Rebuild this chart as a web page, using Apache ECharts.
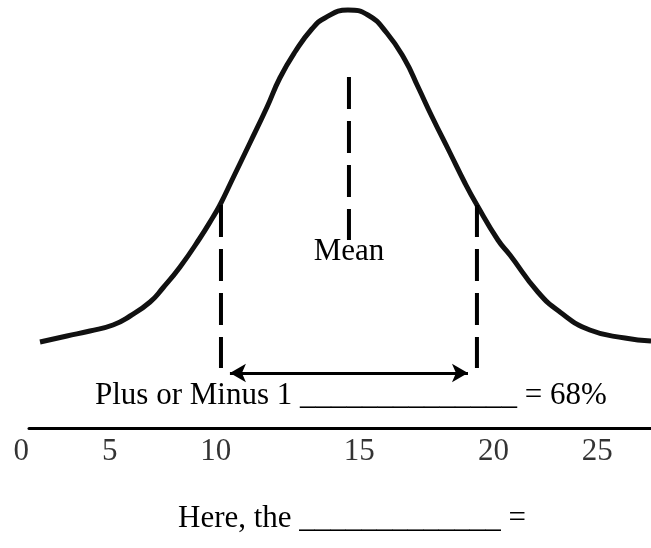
<!DOCTYPE html>
<html>
<head>
<meta charset="utf-8">
<script src="https://cdn.jsdelivr.net/npm/echarts@6/dist/echarts.min.js"></script>
<style>
  html, body { margin: 0; padding: 0; background: #fff; }
  #main { width: 651px; height: 548px; }
</style>
</head>
<body>
<div id="main"></div>
<script>
// bell curve: x in score units, y = height above the number line
var curveX = [2.93, 3.98, 4.88, 5.78, 6.45, 7.23, 7.73, 8.40, 9.18, 9.69, 9.96, 10.47, 11.13, 11.80, 12.30, 12.89, 13.55, 14.06,
              14.96, 15.74, 16.48, 17.19, 17.70, 18.25, 18.95, 19.53, 20.00, 20.82, 21.29, 22.38, 23.24, 24.41, 25.78, 26.80];
var curveY = [86, 92, 97, 103, 112, 126, 140, 161, 190, 211, 223, 250, 285, 321, 350, 376, 399, 410,
              418, 413, 395, 368, 341, 311, 275, 245, 223, 188, 173, 136, 116, 98, 90, 87];

// plus / minus one standard deviation, and the mean
var sdAt = [10, 20];
var sdSpan = [223, 60];
var meanAt = 15;
var meanSpan = [351, 188];

// double arrow between the two sd lines
var arrowSpan = [10.35, 19.65];
var arrowLevel = 55;

// number line labels (hand placed in the original, not evenly spaced)
var tickLabels = ['0', '5', '10', '15', '20', '25'];
var tickAt = [2.2, 5.65, 9.8, 15.4, 20.65, 24.7];

var line1 = 'Plus or Minus 1 ______________ = 68%';
var line2 = 'Here, the _____________ =';

var FONT = '"Times New Roman", "Liberation Serif", serif';

var chart = echarts.init(document.getElementById('main'));

var curve = [];
for (var i = 0; i < curveX.length; i++) {
  curve.push([curveX[i], curveY[i]]);
}

var dashed = { color: '#000', width: 4, type: [32, 12], cap: 'butt' };

var series = [
  {
    name: 'curve',
    type: 'line',
    data: curve,
    smooth: 0.5,
    symbol: 'none',
    lineStyle: { color: '#111', width: 5 }
  }
];

sdAt.forEach(function (x) {
  series.push({
    type: 'line',
    data: [[x, sdSpan[0]], [x, sdSpan[1]]],
    symbol: 'none',
    lineStyle: dashed
  });
});

series.push({
  type: 'line',
  data: [[meanAt, meanSpan[0]], [meanAt, meanSpan[1]]],
  symbol: 'none',
  lineStyle: dashed
});

// "Mean" text hangs under the mean line
series.push({
  type: 'scatter',
  data: [[meanAt, meanSpan[1]]],
  symbolSize: 0,
  z: 10,
  itemStyle: { opacity: 1 },
  label: {
    show: true,
    position: 'bottom',
    distance: 0,
    offset: [0, -4],
    formatter: 'Mean',
    color: '#000',
    opacity: 1,
    textBorderWidth: 0,
    fontSize: 31,
    fontFamily: FONT
  }
});

series.push({
  type: 'line',
  data: [],
  markLine: {
    silent: true,
    symbol: ['arrow', 'arrow'],
    symbolSize: [14, 16],
    label: { show: false },
    lineStyle: { color: '#000', width: 3, type: 'solid' },
    data: [[{ coord: [arrowSpan[0], arrowLevel] }, { coord: [arrowSpan[1], arrowLevel] }]]
  }
});

// tick labels sit under the number line
series.push({
  type: 'scatter',
  clip: false,
  data: tickAt.map(function (v) { return [v, 0]; }),
  symbolSize: 0,
  label: {
    show: true,
    position: 'bottom',
    distance: 8,
    formatter: function (p) { return tickLabels[p.dataIndex]; },
    color: '#000',
    fontSize: 31,
    fontFamily: FONT
  }
});

chart.setOption({
  animation: false,
  backgroundColor: '#fff',
  textStyle: { fontFamily: FONT },
  grid: { left: 29, right: 0, top: 0, bottom: 120 },
  xAxis: {
    type: 'value',
    min: 2.5,
    max: 26.8,
    axisLine: { show: true, onZero: true, lineStyle: { color: '#000', width: 3 } },
    axisTick: { show: false },
    axisLabel: { show: false },
    splitLine: { show: false }
  },
  yAxis: {
    type: 'value',
    min: 0,
    max: 428,
    show: false
  },
  graphic: [
    {
      type: 'text',
      left: 95,
      top: 380,
      style: { text: line1, font: '31px ' + FONT, fill: '#000' }
    },
    {
      type: 'text',
      left: 178,
      top: 503,
      style: { text: line2, font: '31px ' + FONT, fill: '#000' }
    }
  ],
  series: series
});
</script>
</body>
</html>
